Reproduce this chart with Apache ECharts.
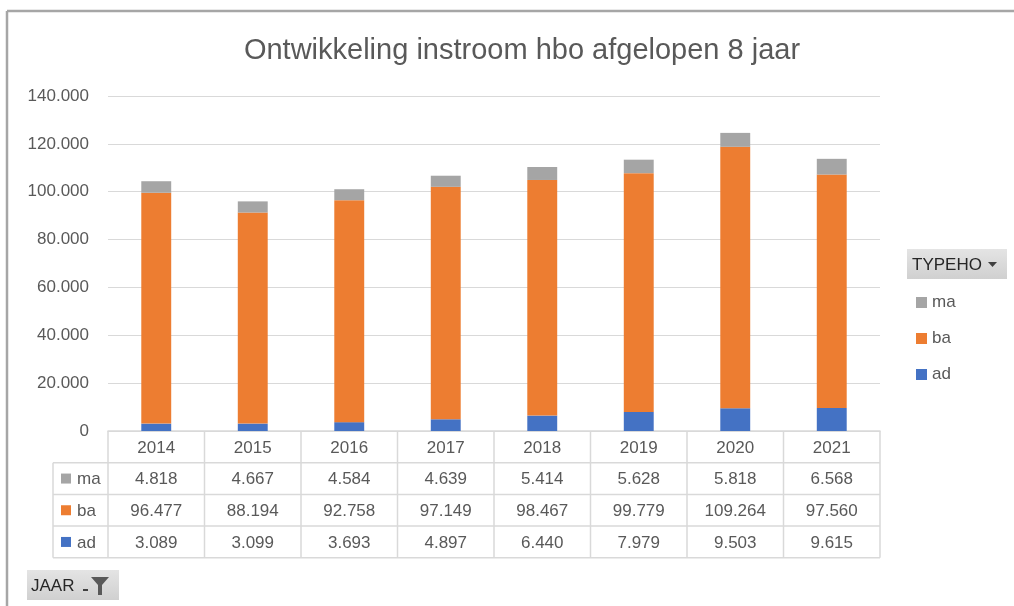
<!DOCTYPE html>
<html><head><meta charset="utf-8">
<script src="https://cdn.jsdelivr.net/npm/echarts@6/dist/echarts.min.js"></script>
<style>html,body{margin:0;padding:0;background:#fff}#c{width:1014px;height:606px}</style>
</head><body><div id="c"></div>
<script>
var years = ['2014','2015','2016','2017','2018','2019','2020','2021'];
var ad = [3089, 3099, 3693, 4897, 6440, 7979, 9503, 9615];
var ba = [96477, 88194, 92758, 97149, 98467, 99779, 109264, 97560];
var ma = [4818, 4667, 4584, 4639, 5414, 5628, 5818, 6568];
var yTicks = [0, 20000, 40000, 60000, 80000, 100000, 120000, 140000];

var FONT = '"Liberation Sans", Arial, sans-serif';
var TXT = '#595959';
var BORDER = '#D9D9D9';
var COLORS = {ad:'#4472C4', ba:'#ED7D31', ma:'#A5A5A5'};

function fmt(n){ return String(n).replace(/\B(?=(\d{3})+(?!\d))/g, '.'); }

var chart = echarts.init(document.getElementById('c'), null, {renderer:'canvas'});
chart.setOption({
  animation:false,
  backgroundColor:'#fff',
  title:{text:'Ontwikkeling instroom hbo afgelopen 8 jaar', left:517, textAlign:'center', top:31,
    textStyle:{fontFamily:FONT, fontSize:29, fontWeight:'normal', color:TXT}},
  grid:{left:108, right:134, top:96, bottom:175, containLabel:false},
  legend:{orient:'vertical', left:911, top:289, itemWidth:11, itemHeight:11, itemGap:19,
    icon:'rect', data:['ma','ba','ad'], selectedMode:false, itemStyle:{borderWidth:0},
    textStyle:{fontFamily:FONT, fontSize:17, color:TXT}},
  xAxis:{type:'category', data:years, axisLine:{show:true, lineStyle:{color:BORDER, width:1.5}},
    axisTick:{show:false}, axisLabel:{show:false}},
  yAxis:{type:'value', min:yTicks[0], max:yTicks[yTicks.length-1], interval:20000,
    axisLine:{show:false}, axisTick:{show:false},
    splitLine:{lineStyle:{color:BORDER, width:1}},
    axisLabel:{margin:19, fontFamily:FONT, fontSize:17, color:TXT, formatter:function(v){return fmt(v);}}},
  series:[
    {name:'ad', type:'bar', stack:'t', data:ad, barWidth:'31%', itemStyle:{color:COLORS.ad}},
    {name:'ba', type:'bar', stack:'t', data:ba, barWidth:'31%', itemStyle:{color:COLORS.ba}},
    {name:'ma', type:'bar', stack:'t', data:ma, barWidth:'31%', itemStyle:{color:COLORS.ma}}
  ]
});

// Data table built from the same arrays, positioned by the library's scales
var c0 = chart.convertToPixel({xAxisIndex:0}, years[0]);
var c1 = chart.convertToPixel({xAxisIndex:0}, years[1]);
var band = c1 - c0;
var xL = c0 - band/2;
var xR = xL + band*years.length;
var y0 = chart.convertToPixel({yAxisIndex:0}, 0);
var rowH = 31.7;
var labelLeft = 53;
var rows = [{name:'ma', vals:ma}, {name:'ba', vals:ba}, {name:'ad', vals:ad}];
var els = [];
var ls = {stroke:BORDER, lineWidth:1.5};
for (var r = 1; r <= rows.length + 1; r++) {
  var yy = y0 + r*rowH;
  els.push({type:'line', shape:{x1:labelLeft, y1:yy, x2:xR, y2:yy}, style:ls, silent:true});
}
for (var i = 0; i <= years.length; i++) {
  var xx = xL + i*band;
  els.push({type:'line', shape:{x1:xx, y1:y0, x2:xx, y2:y0 + (rows.length+1)*rowH}, style:ls, silent:true});
}
els.push({type:'line', shape:{x1:labelLeft, y1:y0+rowH, x2:labelLeft, y2:y0+(rows.length+1)*rowH}, style:ls, silent:true});
years.forEach(function(yr, i){
  els.push({type:'text', x:xL + (i+0.5)*band, y:y0 + rowH/2 + 1,
    style:{text:yr, fill:TXT, font:'17px ' + FONT, textAlign:'center', textVerticalAlign:'middle'}, silent:true});
});
rows.forEach(function(row, r){
  var cy = y0 + (r+1.5)*rowH;
  els.push({type:'rect', shape:{x:61, y:cy-5, width:10, height:10}, style:{fill:COLORS[row.name]}, silent:true});
  els.push({type:'text', x:77, y:cy+1, style:{text:row.name, fill:TXT, font:'17px ' + FONT, textAlign:'left', textVerticalAlign:'middle'}, silent:true});
  row.vals.forEach(function(v, i){
    els.push({type:'text', x:xL + (i+0.5)*band, y:cy+1,
      style:{text:fmt(v), fill:TXT, font:'17px ' + FONT, textAlign:'center', textVerticalAlign:'middle'}, silent:true});
  });
});
els.push({type:'line', shape:{x1:7, y1:11, x2:1014, y2:11}, style:{stroke:'#A6A6A6', lineWidth:2.5}, silent:true});
els.push({type:'line', shape:{x1:7, y1:11, x2:7, y2:606}, style:{stroke:'#A6A6A6', lineWidth:2.5}, silent:true});
els.push({type:'rect', shape:{x:907, y:249, width:100, height:30},
  style:{fill:new echarts.graphic.LinearGradient(0,0,0,1,[{offset:0,color:'#E4E4E4'},{offset:1,color:'#D0D0D0'}])}, silent:true});
els.push({type:'text', x:912, y:265, style:{text:'TYPEHO', fill:'#262626', font:'17px ' + FONT, textVerticalAlign:'middle'}, silent:true});
els.push({type:'polygon', shape:{points:[[988,262],[997,262],[992.5,267]]}, style:{fill:'#404040'}, silent:true});
els.push({type:'rect', shape:{x:27, y:570, width:92, height:30},
  style:{fill:new echarts.graphic.LinearGradient(0,0,0,1,[{offset:0,color:'#E4E4E4'},{offset:1,color:'#D0D0D0'}])}, silent:true});
els.push({type:'text', x:31, y:586, style:{text:'JAAR', fill:'#262626', font:'17px ' + FONT, textVerticalAlign:'middle'}, silent:true});
els.push({type:'rect', shape:{x:83, y:589, width:5, height:2}, style:{fill:'#404040'}, silent:true});
els.push({type:'polygon', shape:{points:[[91,577],[109,577],[102,585],[102,595],[98,595],[98,585]]}, style:{fill:'#595959'}, silent:true});
chart.setOption({graphic:{elements:els}});
</script></body></html>
